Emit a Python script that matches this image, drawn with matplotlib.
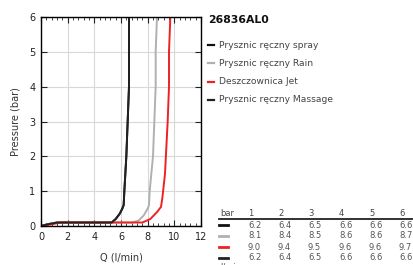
import matplotlib
matplotlib.use("Agg")
import matplotlib.pyplot as plt
from matplotlib.lines import Line2D
from matplotlib.ticker import MultipleLocator

title = "26836AL0"
series_names = ["Prysznic ręczny spray", "Prysznic ręczny Rain", "Deszczownica Jet", "Prysznic ręczny Massage"]
series_colors = ["#111111", "#b0b0b0", "#ee2222", "#222222"]

q_spray = [0, 0.5, 1.2, 5.3, 5.6, 5.9, 6.1, 6.2, 6.25, 6.4, 6.5, 6.55, 6.6, 6.6]
p_spray = [0, 0.05, 0.1, 0.1, 0.2, 0.35, 0.5, 0.6, 1.0, 2.0, 3.0, 3.5, 4.0, 6.0]
q_rain = [0, 0.5, 1.2, 6.8, 7.3, 7.7, 8.0, 8.1, 8.15, 8.4, 8.5, 8.6, 8.6, 8.7]
p_rain = [0, 0.05, 0.1, 0.1, 0.15, 0.3, 0.5, 0.6, 1.0, 2.0, 3.0, 4.0, 5.0, 6.0]
q_jet = [0, 0.5, 1.5, 7.6, 8.2, 8.7, 9.0, 9.1, 9.3, 9.5, 9.6, 9.6, 9.7]
p_jet = [0, 0.03, 0.1, 0.1, 0.2, 0.4, 0.55, 0.8, 1.5, 3.0, 4.0, 5.0, 6.0]
q_massage = q_spray
p_massage = p_spray

table_bar = ["1", "2", "3", "4", "5", "6"]
table_values = [
    ["6.2", "6.4", "6.5", "6.6", "6.6", "6.6"],
    ["8.1", "8.4", "8.5", "8.6", "8.6", "8.7"],
    ["9.0", "9.4", "9.5", "9.6", "9.6", "9.7"],
    ["6.2", "6.4", "6.5", "6.6", "6.6", "6.6"],
]

W, H = 414, 265
fig = plt.figure(figsize=(W / 100, H / 100), dpi=100)
ax = fig.add_axes([41 / W, 1 - 226 / H, 160 / W, 209 / H])

curves = [(q_spray, p_spray), (q_rain, p_rain), (q_jet, p_jet), (q_massage, p_massage)]
for (q, p), c in zip(curves, series_colors):
    ax.plot(q, p, color=c, lw=1.4, solid_joinstyle="round")

ax.set_xlim(0, 12)
ax.set_ylim(0, 6)
ax.xaxis.set_major_locator(MultipleLocator(2))
ax.xaxis.set_minor_locator(MultipleLocator(0.4))
ax.yaxis.set_major_locator(MultipleLocator(1))
ax.grid(True, which="major", color="#d8d8d8", lw=0.8)
ax.set_axisbelow(True)
ax.tick_params(which="both", direction="in", top=True, right=True, labelsize=7, colors="#222222", pad=4)
ax.tick_params(which="major", length=4)
ax.tick_params(which="minor", length=2.5)
ax.set_xlabel("Q (l/min)", fontsize=7, color="#333333", labelpad=8)
ax.set_ylabel("Pressure (bar)", fontsize=7, color="#333333", labelpad=6)
for s in ax.spines.values():
    s.set_linewidth(1.0)

def fx(px):
    return px / W

def fy(py):
    return 1 - py / H

fig.text(fx(208), fy(20), title, fontsize=7.8, fontweight="bold", va="center", ha="left", color="#111111")
leg_y = [45, 63, 82, 100]
for name, c, y in zip(series_names, series_colors, leg_y):
    fig.add_artist(Line2D([fx(208), fx(214.5)], [fy(y), fy(y)], color=c, lw=1.6))
    fig.text(fx(219), fy(y), name, fontsize=6.6, va="center", ha="left", color="#444444")

col_x = [248, 278, 308, 339, 369, 399]
fig.text(fx(220), fy(213), "bar", fontsize=6, va="center", ha="left", color="#444444")
for lab, x in zip(table_bar, col_x):
    fig.text(fx(x), fy(213), lab, fontsize=6, va="center", ha="left", color="#444444")
fig.add_artist(Line2D([fx(219), fx(414)], [fy(218.5), fy(218.5)], color="#222222", lw=1.3))
row_y = [225, 236, 247, 258]
for vals, c, y in zip(table_values, series_colors, row_y):
    fig.add_artist(Line2D([fx(219), fx(228)], [fy(y), fy(y)], color=c, lw=2))
    for v, x in zip(vals, col_x):
        fig.text(fx(x), fy(y), v, fontsize=6, va="center", ha="left", color="#555555")
fig.text(fx(220), fy(267), "l/min", fontsize=6, va="center", ha="left", color="#555555")

fig.savefig("out.png", dpi=100)
